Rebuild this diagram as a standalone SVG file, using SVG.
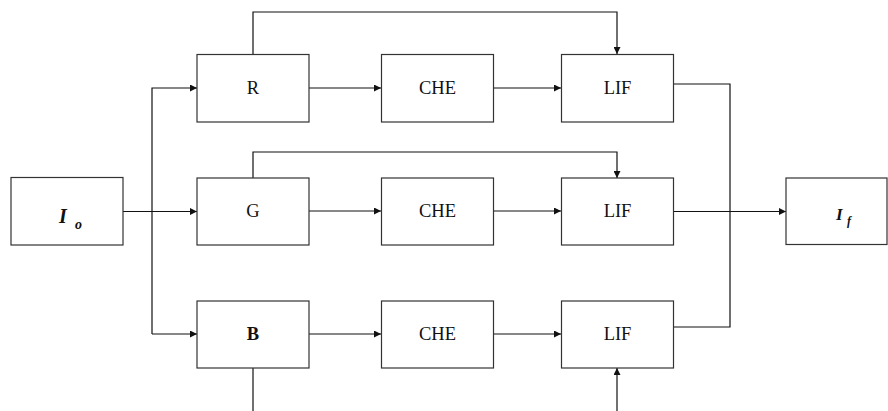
<svg xmlns="http://www.w3.org/2000/svg" width="888" height="411" viewBox="0 0 888 411">
<style>
.box{fill:#fff;stroke:#333;stroke-width:1.2}
.ln{fill:none;stroke:#111;stroke-width:1.2}
.lbl{font-family:"Liberation Serif",serif;font-size:18.5px;fill:#111;text-anchor:middle}
.it{font-family:"Liberation Serif",serif;font-style:italic;font-weight:bold;fill:#111}
</style>
<defs>
<marker id="ah" viewBox="0 0 10 10" refX="10" refY="5" markerWidth="9" markerHeight="7" markerUnits="userSpaceOnUse" orient="auto">
<path d="M0,0 L10,5 L0,10 z" fill="#111"/>
</marker>
</defs>
<rect width="888" height="411" fill="#fff"/>
<g id="connectors">
<path class="ln" d="M123,211.5 H197" marker-end="url(#ah)"/>
<path class="ln" d="M152,334 V88 H197" marker-end="url(#ah)"/>
<path class="ln" d="M152,334 H197" marker-end="url(#ah)"/>
<path class="ln" d="M309,88 H381" marker-end="url(#ah)"/>
<path class="ln" d="M494,88 H561" marker-end="url(#ah)"/>
<path class="ln" d="M309,211 H381" marker-end="url(#ah)"/>
<path class="ln" d="M494,211 H561" marker-end="url(#ah)"/>
<path class="ln" d="M309,334 H381" marker-end="url(#ah)"/>
<path class="ln" d="M494,334 H561" marker-end="url(#ah)"/>
<path class="ln" d="M253,54 V12 H617 V54" marker-end="url(#ah)"/>
<path class="ln" d="M253,178 V152 H617 V178" marker-end="url(#ah)"/>
<path class="ln" d="M253,368 V411"/>
<path class="ln" d="M617,411 V368" marker-end="url(#ah)"/>
<path class="ln" d="M673,84 H730 V327 H673"/>
<path class="ln" d="M673,211.5 H786" marker-end="url(#ah)"/>
</g>
<g id="Io"><rect class="box" x="11" y="177.5" width="112" height="67.5"/><text class="it" x="59" y="223" font-size="20">I</text><text class="it" x="75" y="229" font-size="14" font-weight="normal">o</text></g>
<g id="R"><rect class="box" x="197" y="54.5" width="112" height="67.5"/><text class="lbl" x="253" y="94">R</text></g>
<g id="CHE1"><rect class="box" x="381.5" y="54.5" width="112" height="67.5"/><text class="lbl" x="437.5" y="94">CHE</text></g>
<g id="LIF1"><rect class="box" x="561.5" y="54.5" width="112" height="67.5"/><text class="lbl" x="617.5" y="94">LIF</text></g>
<g id="G"><rect class="box" x="197" y="178" width="112" height="67"/><text class="lbl" x="253" y="217">G</text></g>
<g id="CHE2"><rect class="box" x="381.5" y="178" width="112" height="67"/><text class="lbl" x="437.5" y="217">CHE</text></g>
<g id="LIF2"><rect class="box" x="561.5" y="178" width="112" height="67"/><text class="lbl" x="617.5" y="217">LIF</text></g>
<g id="B"><rect class="box" x="197" y="301" width="112" height="67"/><text class="lbl" x="253" y="340" font-weight="bold">B</text></g>
<g id="CHE3"><rect class="box" x="381.5" y="301" width="112" height="67"/><text class="lbl" x="437.5" y="340">CHE</text></g>
<g id="LIF3"><rect class="box" x="561.5" y="301" width="112" height="67"/><text class="lbl" x="617.5" y="340">LIF</text></g>
<g id="If"><rect class="box" x="786" y="178" width="101" height="66.5"/><text class="it" x="836" y="220" font-size="17">I</text><text class="it" x="847" y="225" font-size="12" font-weight="normal">f</text></g>
</svg>
